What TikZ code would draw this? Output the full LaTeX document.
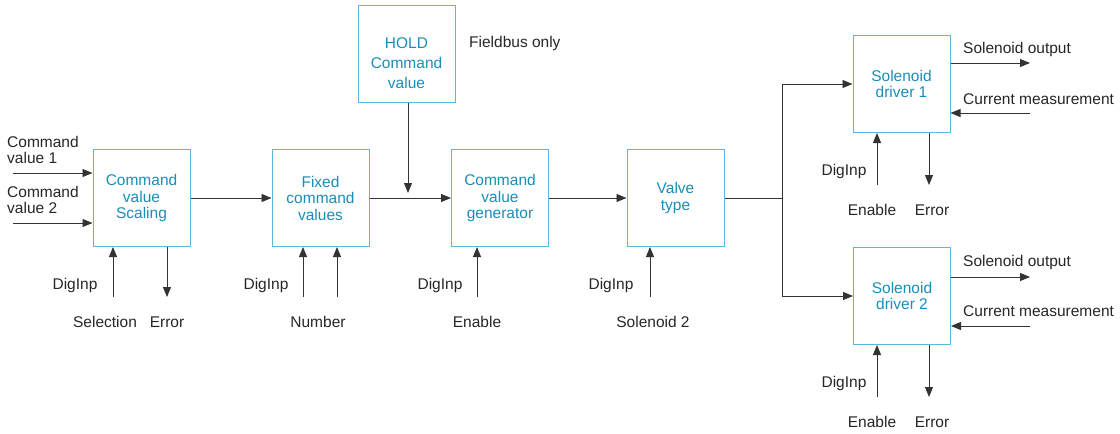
\documentclass[tikz,border=0pt]{standalone}
\usepackage{fontspec}
\setmainfont{Liberation Sans}
\usetikzlibrary{arrows.meta}
\definecolor{boxc}{HTML}{5DB7DA}
\definecolor{txtc}{HTML}{1A8DB8}
\begin{document}
\begin{tikzpicture}[x=1pt,y=-1pt,
 blk/.style={draw=boxc,line width=1pt,minimum width=97pt,minimum height=97pt,inner sep=0pt,align=center,text=txtc,font=\fontsize{15.5}{16.5}\selectfont},
 lbl/.style={font=\fontsize{15.5}{16.5}\selectfont,inner sep=0pt,align=left,text=black!85},
 conn/.style={line width=0.9pt,draw=black!80,-{Triangle[length=10pt,width=8pt]}},
 wire/.style={line width=0.9pt,draw=black!80}]
\useasboundingbox (0,0) rectangle (1120,434);

% blocks
\node[blk] (cvs) at (141.5,198) {Command\\value\\Scaling};
\node[blk] (fix) at (320.5,198) {Fixed\\command\\values};
\node[blk] (cvg) at (500,198) {Command\\value\\generator};
\node[blk] (vt) at (675.5,198) {Valve\\type};
\node[blk] (hold) at (406.5,54) {};
\node[align=center,text=txtc,inner sep=0pt,font=\fontsize{15.5}{20}\selectfont] (holdt) at (406.5,63) {HOLD\\Command\\value};
\node[blk] (sd1) at (901.5,84) {Solenoid\\driver 1};
\node[blk] (sd2) at (902,296) {Solenoid\\driver 2};

% main chain
\draw[conn] (cvs.east) -- (fix.west);
\draw[conn] (fix.east) -- (cvg.west);
\draw[conn] (cvg.east) -- (vt.west);
\coordinate (hj) at (408,193);
\draw[conn] (hold.south -| hj) -- (hj);
\coordinate (sp) at (782,198);
\coordinate (spt) at (782,84);
\coordinate (spb) at (782,296);
\draw[wire] (vt.east) -- (sp);
\draw[conn] (sp) -- (spt) -- (sd1.west);
\draw[conn] (sp) -- (spb) -- (sd2.west);

% command value inputs
\node[lbl,anchor=west] (lc1) at (7,150) {Command\\value 1};
\node[lbl,anchor=west] (lc2) at (7,200) {Command\\value 2};
\coordinate (i1) at (13,173);
\coordinate (i2) at (13,223);
\draw[conn] (i1) -- (cvs.west |- i1);
\draw[conn] (i2) -- (cvs.west |- i2);

% CVS bottom
\coordinate (c1) at (113,297);
\coordinate (c2) at (167,297);
\draw[conn] (c1) -- (cvs.south -| c1);
\draw[conn] (cvs.south -| c2) -- (c2);
\node[lbl] (d1) at (75,285) {DigInp};
\node[lbl] (s1) at (105,322) {Selection};
\node[lbl] (e1) at (167,322) {Error};

% Fixed bottom
\coordinate (f1) at (303,297);
\coordinate (f2) at (337,297);
\draw[conn] (f1) -- (fix.south -| f1);
\draw[conn] (f2) -- (fix.south -| f2);
\node[lbl] (d2) at (266,285) {DigInp};
\node[lbl] (n2) at (318,322) {Number};

% CVG bottom
\coordinate (g1) at (477,297);
\draw[conn] (g1) -- (cvg.south -| g1);
\node[lbl] (d3) at (440,285) {DigInp};
\node[lbl] (en3) at (477,322) {Enable};

% Valve bottom
\coordinate (v1) at (650,297);
\draw[conn] (v1) -- (vt.south -| v1);
\node[lbl] (d4) at (611,285) {DigInp};
\node[lbl] (s4) at (653,322) {Solenoid 2};

% Fieldbus
\node[lbl,anchor=west] (fb) at (469,43) {Fieldbus only};

% SD1
\coordinate (o1) at (1030,63);
\coordinate (m1) at (1030,113);
\draw[conn] (sd1.east |- o1) -- (o1);
\draw[conn] (m1) -- (sd1.east |- m1);
\node[lbl,anchor=west] (so1) at (963,49) {Solenoid output};
\node[lbl,anchor=west] (cm1) at (963,99) {Current measurement};
\coordinate (a1) at (877,185);
\coordinate (b1) at (929,185);
\draw[conn] (a1) -- (sd1.south -| a1);
\draw[conn] (sd1.south -| b1) -- (b1);
\node[lbl] (d5) at (844,171) {DigInp};
\node[lbl] (en5) at (872,210) {Enable};
\node[lbl] (er5) at (932,210) {Error};

% SD2
\coordinate (o2) at (1030,277);
\coordinate (m2) at (1030,326);
\draw[conn] (sd2.east |- o2) -- (o2);
\draw[conn] (m2) -- (sd2.east |- m2);
\node[lbl,anchor=west] (so2) at (963,262) {Solenoid output};
\node[lbl,anchor=west] (cm2) at (963,311) {Current measurement};
\coordinate (a2) at (877,397);
\coordinate (b2) at (929,397);
\draw[conn] (a2) -- (sd2.south -| a2);
\draw[conn] (sd2.south -| b2) -- (b2);
\node[lbl] (d6) at (844,383) {DigInp};
\node[lbl] (en6) at (872,422) {Enable};
\node[lbl] (er6) at (932,422) {Error};
\end{tikzpicture}
\end{document}
